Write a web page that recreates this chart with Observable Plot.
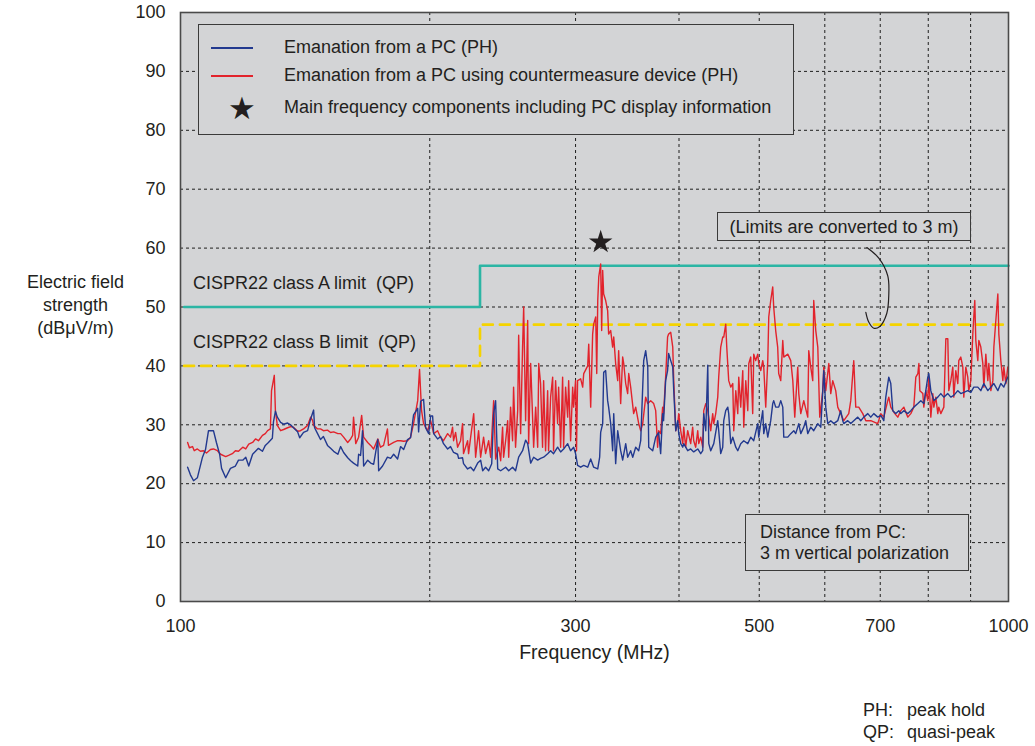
<!DOCTYPE html>
<html><head><meta charset="utf-8">
<script src="https://cdn.jsdelivr.net/npm/d3@7"></script>
<script src="https://cdn.jsdelivr.net/npm/@observablehq/plot@0.6"></script>
<style>
body{margin:0;background:#fff;font-family:"Liberation Sans",Arial,sans-serif;color:#231f20}
#wrap{position:relative;width:1035px;height:746px;overflow:hidden}
#wrap svg{position:absolute;left:0;top:0}
.box{position:absolute;background:#d3d4d6;border:1.5px solid #3a3a3a;box-sizing:border-box;font-size:18px}
.t{position:absolute;font-size:18px;line-height:22px;white-space:nowrap;color:#231f20}
.sw{position:absolute;height:1.6px}
</style></head><body><div id="wrap"></div><script>
// Frequency (MHz), field strength (dBµV/m) — emanation from a PC (peak hold)
const bluePH = [
[102.0,22.8],[102.8,21.5],[103.7,20.5],[104.8,21.0],[106.3,24.5],[107.2,25.8],[108.1,29.0],[109.6,29.0],[110.5,27.0],[111.5,25.0],
[112.1,22.6],[113.4,21.0],[114.9,22.6],[116.5,23.0],[117.5,24.0],[118.9,24.0],[119.9,24.5],[120.9,23.0],[122.2,25.0],[123.2,25.5],
[124.2,26.0],[125.6,25.5],[126.6,26.5],[127.7,27.0],[129.1,27.7],[129.5,30.5],[130.2,32.3],[130.9,31.3],[132.1,30.4],[133.2,30.1],
[134.7,30.3],[135.8,30.0],[136.9,29.5],[138.5,28.8],[139.3,27.8],[140.8,28.7],[142.4,29.0],[143.6,31.0],[144.8,32.5],[145.2,29.5],
[146.4,28.5],[147.6,27.5],[148.8,28.0],[150.5,26.5],[151.8,26.0],[153.1,25.5],[154.9,25.0],[156.1,26.3],[157.4,25.3],[159.2,24.4],
[160.5,23.9],[161.8,23.5],[163.7,23.0],[164.1,25.0],[165.0,24.8],[165.9,29.0],[166.4,23.0],[168.3,24.0],[169.7,23.5],[171.1,23.3],
[173.1,27.5],[173.5,22.2],[175.4,23.0],[177.8,24.5],[179.4,24.3],[180.9,25.0],[182.9,24.2],[184.4,26.3],[186.0,25.8],[188.0,27.5],
[189.6,27.8],[191.2,31.7],[193.4,32.8],[193.9,28.8],[195.0,34.0],[196.6,34.3],[197.7,29.5],[199.4,28.5],[200.5,31.5],[201.6,31.5],
[202.2,28.5],[204.4,27.6],[206.1,28.0],[207.8,26.8],[210.2,25.9],[211.9,26.3],[213.7,25.3],[216.1,25.0],[216.7,24.3],[219.1,24.4],
[219.7,23.4],[222.2,22.5],[224.1,22.8],[226.0,22.2],[228.5,23.5],[230.4,24.0],[231.7,22.2],[233.6,22.8],[235.6,22.2],[237.6,23.4],
[238.9,31.9],[240.2,34.1],[241.6,22.5],[243.6,22.2],[247.0,22.8],[249.1,22.2],[251.8,22.8],[253.9,22.2],[256.1,24.5],[258.9,25.6],
[261.1,27.4],[262.6,26.8],[264.8,23.5],[267.0,24.5],[270.0,24.0],[272.2,24.3],[274.5,24.5],[277.6,25.1],[279.9,25.6],[282.2,25.1],
[285.4,26.2],[287.8,25.4],[290.2,25.9],[293.5,26.8],[295.9,25.6],[298.4,26.2],[300.0,25.1],[301.7,23.1],[304.3,22.8],[306.9,23.1],
[310.3,22.8],[312.9,24.2],[315.5,22.8],[319.1,22.5],[320.8,24.5],[321.7,28.7],[323.5,30.2],[324.4,38.9],[326.2,39.2],[328.0,34.1],
[328.9,33.0],[330.8,30.2],[332.6,25.6],[333.6,31.9],[335.4,23.4],[337.3,29.0],[340.1,25.6],[342.0,24.0],[344.9,26.8],[346.8,24.5],
[349.7,25.6],[351.7,24.5],[354.6,26.2],[357.6,25.6],[359.6,27.3],[362.6,40.9],[364.6,42.6],[366.7,39.8],[367.7,26.2],[371.8,25.6],
[374.9,27.9],[378.0,28.7],[380.1,25.1],[382.2,31.9],[383.2,30.7],[385.4,37.5],[387.5,39.2],[388.6,42.1],[390.9,40.9],[393.1,39.8],
[394.2,35.8],[396.4,29.0],[398.6,30.7],[399.7,28.5],[401.9,26.8],[404.2,26.2],[405.3,26.8],[409.8,25.6],[413.2,25.9],[416.7,25.4],
[421.4,25.9],[424.9,25.1],[427.3,25.6],[428.5,31.9],[430.9,29.0],[433.3,40.1],[434.5,26.8],[436.9,25.6],[440.6,26.8],[445.5,30.7],
[446.7,29.0],[449.2,25.1],[451.7,26.2],[453.0,30.7],[455.5,32.4],[458.1,33.0],[459.3,31.9],[461.9,26.8],[464.5,27.9],[468.4,26.2],
[471.0,25.6],[474.9,26.8],[478.9,27.3],[484.3,26.8],[488.3,27.9],[492.4,27.3],[497.9,30.2],[499.3,27.9],[502.1,30.2],[504.9,32.4],
[506.3,28.5],[509.1,30.2],[512.0,27.9],[516.2,30.7],[519.1,33.6],[520.5,34.1],[523.4,33.0],[527.8,33.0],[530.8,34.1],[533.8,33.0],
[535.3,27.9],[541.3,27.9],[545.8,28.5],[550.4,29.0],[553.4,28.5],[556.5,29.6],[558.1,30.2],[561.2,28.5],[565.9,29.6],[569.0,30.7],
[572.2,28.5],[577.0,29.6],[581.8,29.0],[588.4,30.2],[593.3,29.6],[596.6,35.8],[598.3,39.2],[601.6,33.0],[605.0,30.2],[610.0,30.7],
[615.1,30.2],[622.0,30.7],[627.2,32.4],[630.7,30.7],[632.5,30.2],[639.5,30.7],[644.9,30.2],[650.3,30.7],[657.6,31.3],[663.1,30.7],
[668.7,31.3],[676.2,31.9],[681.8,31.3],[687.5,31.9],[695.2,31.3],[701.1,31.6],[707.0,30.7],[710.9,34.7],[716.8,38.1],[720.8,37.0],
[724.8,32.4],[730.9,31.9],[737.1,32.4],[741.2,31.9],[747.4,32.4],[755.8,31.9],[762.1,32.4],[768.5,33.0],[777.2,33.6],[783.6,34.1],
[790.2,33.6],[794.6,35.8],[799.0,38.1],[801.3,38.7],[805.7,35.8],[812.5,34.1],[821.5,34.7],[828.4,35.3],[835.4,34.7],[844.7,35.3],
[851.8,34.7],[858.9,35.0],[868.5,35.8],[875.8,35.3],[883.1,35.5],[892.9,35.8],[900.5,35.5],[908.0,36.4],[918.2,36.4],[925.9,35.8],
[933.7,37.0],[944.1,35.8],[952.1,36.4],[960.1,37.0],[970.8,35.8],[978.9,37.0],[987.1,36.4],[998.1,38.1]
];
// Emanation from a PC using countermeasure device (peak hold)
const redPH = [
[102.0,27.0],[102.5,26.1],[103.4,26.3],[103.9,25.6],[104.8,25.9],[105.7,25.5],[106.6,25.6],[107.5,25.2],[108.7,25.8],[109.6,25.9],
[110.8,25.6],[111.8,25.0],[113.4,24.6],[114.3,24.8],[115.5,25.1],[116.5,25.6],[117.5,25.5],[118.9,26.2],[119.9,25.9],[120.9,26.7],
[122.2,27.0],[123.2,27.6],[124.2,27.3],[125.6,28.2],[126.6,28.5],[127.4,29.0],[128.4,29.3],[128.8,35.8],[129.8,38.4],[130.2,32.4],
[130.9,29.9],[132.1,29.0],[133.2,29.2],[134.7,29.5],[135.8,29.7],[136.9,29.6],[138.5,28.9],[139.6,29.0],[140.8,29.3],[142.4,29.9],
[143.6,31.3],[144.4,30.7],[144.8,29.9],[146.4,29.3],[147.6,29.3],[148.8,29.0],[150.5,29.1],[151.8,28.7],[153.1,28.8],[154.9,28.5],
[156.1,28.5],[157.4,27.9],[159.2,27.0],[160.5,27.6],[161.4,28.2],[161.8,31.3],[162.8,26.8],[164.1,27.9],[165.5,31.6],[166.4,27.9],
[168.3,27.0],[169.7,26.5],[171.1,25.9],[173.1,27.6],[174.4,26.2],[175.9,26.5],[177.8,29.3],[178.3,26.5],[180.9,27.0],[182.9,27.3],
[184.4,27.3],[186.0,27.2],[188.0,27.3],[189.6,27.9],[191.2,30.2],[193.4,34.1],[194.4,39.4],[195.5,32.4],[196.6,30.2],[198.8,29.0],
[200.5,30.7],[202.2,28.5],[204.4,29.0],[206.1,27.9],[207.8,27.3],[210.2,28.5],[211.9,27.9],[213.1,29.6],[213.7,27.3],[214.9,28.7],
[216.1,26.2],[217.9,27.3],[219.1,30.2],[219.7,25.1],[222.2,27.3],[222.8,25.1],[224.1,27.9],[226.0,31.9],[227.2,24.5],[229.1,29.0],
[230.4,24.5],[232.3,27.9],[233.6,25.1],[235.6,27.3],[236.9,24.5],[238.9,34.1],[240.2,24.2],[242.3,26.2],[243.6,23.9],[244.9,29.6],
[245.6,24.5],[247.0,27.3],[248.4,30.7],[249.1,24.5],[250.4,33.0],[251.8,27.3],[252.5,36.4],[253.9,26.2],[255.4,32.4],[256.1,45.2],
[257.5,28.5],[258.9,43.2],[259.7,50.0],[261.1,30.7],[262.6,47.7],[263.3,26.8],[264.8,40.4],[267.0,26.2],[268.5,33.0],[270.0,26.2],
[270.8,40.4],[272.2,37.0],[273.7,26.2],[274.5,37.5],[276.0,25.6],[277.6,35.8],[278.3,25.6],[279.9,34.7],[281.5,38.1],[282.2,25.6],
[283.8,37.5],[285.4,30.2],[286.2,36.4],[287.8,26.2],[289.4,38.1],[290.2,26.2],[291.8,36.4],[293.5,31.3],[294.3,37.5],[295.9,27.3],
[297.6,36.4],[298.4,33.0],[300.0,37.5],[300.8,25.6],[301.7,37.5],[304.3,37.8],[306.0,36.4],[306.9,38.7],[310.3,40.0],[311.2,43.7],
[312.9,33.0],[314.6,45.4],[315.5,47.1],[317.3,48.3],[318.2,38.7],[319.1,51.1],[320.0,55.1],[321.7,57.3],[322.6,46.0],[323.5,56.2],
[324.4,52.2],[326.2,51.1],[328.0,49.4],[328.9,45.4],[330.8,46.0],[332.6,43.2],[333.6,44.9],[335.4,40.4],[337.3,37.5],[338.2,42.6],
[340.1,33.6],[342.0,41.5],[343.0,40.4],[344.9,37.0],[346.8,35.3],[347.8,38.7],[349.7,36.4],[352.6,31.9],[354.6,33.0],[357.6,30.2],
[359.6,29.0],[361.6,30.2],[364.6,34.7],[366.7,33.6],[369.7,34.1],[372.8,33.6],[374.9,32.4],[376.9,26.2],[378.0,29.0],[380.1,28.5],
[382.2,33.0],[383.2,31.9],[385.4,38.1],[387.5,44.9],[388.6,45.4],[390.9,45.7],[393.1,43.2],[394.2,37.5],[396.4,29.0],[398.6,30.2],
[399.7,31.9],[401.9,29.0],[404.2,26.8],[405.3,29.6],[407.5,26.2],[409.8,29.0],[413.2,26.8],[415.5,29.6],[416.7,27.3],[419.0,26.2],
[421.4,29.0],[422.6,26.8],[424.9,27.9],[427.3,26.2],[428.5,32.4],[430.9,33.6],[433.3,32.4],[434.5,31.3],[436.9,29.0],[439.3,31.9],
[440.6,30.2],[443.0,31.9],[445.5,34.7],[446.7,38.1],[449.2,43.2],[451.7,44.9],[453.0,44.9],[455.5,47.1],[456.8,43.2],[459.3,37.5],
[461.9,36.4],[464.5,37.0],[465.8,29.0],[468.4,35.8],[471.0,31.9],[472.3,38.1],[474.9,33.0],[477.6,39.2],[478.9,29.6],[481.6,37.5],
[484.3,32.4],[485.7,40.4],[488.3,41.5],[491.0,31.9],[492.4,42.0],[495.1,40.9],[497.9,42.0],[499.3,40.4],[502.1,39.2],[504.9,40.9],
[506.3,39.8],[509.1,33.0],[512.0,40.9],[513.4,48.3],[516.2,51.1],[519.1,53.4],[520.5,50.0],[523.4,46.0],[526.3,43.2],[527.8,38.7],
[530.8,37.5],[533.8,44.3],[535.3,41.5],[541.3,42.0],[545.8,40.9],[548.9,37.5],[551.9,31.3],[556.5,39.8],[558.1,35.3],[561.2,31.9],
[565.9,34.1],[572.2,31.3],[573.8,42.6],[577.0,39.8],[580.2,37.5],[581.8,51.1],[585.1,46.0],[588.4,43.2],[591.6,31.3],[596.6,35.8],
[598.3,39.8],[601.6,35.8],[606.7,40.4],[610.0,35.3],[613.4,37.5],[618.5,35.8],[622.0,33.0],[627.2,31.9],[632.5,30.7],[641.3,31.9],
[644.9,34.1],[650.3,40.9],[653.9,33.0],[659.4,33.0],[666.8,31.9],[672.5,30.7],[681.8,30.7],[695.2,30.2],[701.1,31.9],[707.0,31.3],
[714.8,34.1],[716.8,34.7],[720.8,33.0],[728.9,31.9],[735.0,31.3],[741.2,32.4],[747.4,33.0],[755.8,31.3],[762.1,31.9],[768.5,33.0],
[772.8,38.1],[777.2,38.7],[779.4,40.4],[781.5,35.8],[788.0,35.3],[790.2,33.0],[794.6,35.8],[799.0,34.1],[801.3,38.1],[805.7,31.3],
[810.2,35.3],[812.5,33.0],[817.0,34.7],[821.5,31.9],[823.8,33.0],[828.4,31.9],[835.4,33.0],[840.1,44.6],[844.7,44.6],[847.1,35.8],
[851.8,37.5],[856.5,39.8],[858.9,34.7],[863.7,39.2],[868.5,37.0],[870.9,40.9],[875.8,41.5],[880.7,39.8],[883.1,34.7],[888.1,39.8],
[892.9,38.1],[895.4,35.8],[900.5,37.5],[905.5,45.4],[908.0,48.3],[910.5,51.1],[913.1,44.3],[918.2,40.9],[920.8,44.3],[925.9,43.2],
[931.1,40.4],[933.7,36.4],[938.9,42.0],[944.1,37.5],[946.8,40.4],[952.1,35.8],[957.4,37.5],[960.1,43.2],[965.4,47.7],[970.8,52.2],
[973.5,45.4],[978.9,40.9],[984.4,37.5],[987.1,39.8],[992.6,37.0],[998.1,39.8]
];
// CISPR22 limits (QP), converted to 3 m
const classALimit = [[101,50],[230,50],[230,57],[1000,57]];
const classBLimit = [[101,40],[230,40],[230,47],[1000,47]];
// Main frequency component including PC display information
const starPoints = [[321.7,61]];
// bracket loop joining the "converted to 3 m" note to the limit lines
const noteLoop = [[674.4,60.1],[697.2,58.3],[714.8,55.3],[716.8,52.0],[712.8,48.9],[699.1,46.7],[687.5,46.4],[678.2,47.4],[672.5,49.1]];
const xTicks = [100,300,500,700,1000];
const xGrid = [200,300,400,500,600,700,800,900];
const yTicks = [0,10,20,30,40,50,60,70,80,90,100];
const yGrid = [10,20,30,40,50,60,70,80,90];

const BLUE="#22398f", RED="#e2232c", CYAN="#2bb5a4", YELLOW="#f5d300", INK="#231f20", BG="#d3d4d6";

const chart = Plot.plot({
  width:1035, height:746,
  marginLeft:180, marginRight:27, marginTop:12, marginBottom:145,
  style:{fontFamily:"'Liberation Sans', Arial, sans-serif", fontSize:"18px", color:INK, background:"transparent"},
  x:{type:"log", domain:[100,1000]},
  y:{domain:[0,100]},
  marks:[
    Plot.frame({fill:BG}),
    Plot.gridY(yGrid, {stroke:"#1f1f1f", strokeOpacity:1, strokeDasharray:"3,3", strokeWidth:1}),
    Plot.gridX(xGrid, {stroke:"#1f1f1f", strokeOpacity:1, strokeDasharray:"3,3", strokeWidth:1}),
    Plot.line(classALimit, {x:d=>d[0], y:d=>d[1], stroke:CYAN, strokeWidth:2.6}),
    Plot.line(classBLimit, {x:d=>d[0], y:d=>d[1], stroke:YELLOW, strokeWidth:2.6, strokeDasharray:"10,7"}),
    Plot.line(redPH, {x:d=>d[0], y:d=>d[1], stroke:RED, strokeWidth:1.4}),
    Plot.line(bluePH, {x:d=>d[0], y:d=>d[1], stroke:BLUE, strokeWidth:1.4}),
    Plot.dot(starPoints, {x:d=>d[0], y:d=>d[1], symbol:"star", r:7.4, fill:INK, stroke:"none"}),
    Plot.line(noteLoop, {x:d=>d[0], y:d=>d[1], curve:"catmull-rom", stroke:INK, strokeWidth:1.2}),
    Plot.frame({stroke:"#4a4a4a", strokeWidth:1.6}),
    Plot.axisX({ticks:xTicks, tickSize:0, tickPadding:18, tickFormat:d=>String(d), label:null, fontSize:18}),
    Plot.axisY({ticks:yTicks, tickSize:0, tickPadding:15, label:null, fontSize:18}),
    Plot.text(["Frequency (MHz)"], {frameAnchor:"bottom", dy:57, fontSize:19.5, fill:INK}),
    Plot.text(["Electric field\nstrength\n(dBμV/m)"], {frameAnchor:"left", dx:-105, dy:-3, textAnchor:"middle", lineHeight:1.28, fontSize:18, fill:INK})
  ]
});
const wrap = document.getElementById("wrap");
wrap.appendChild(chart);

function el(cls, css, html){const d=document.createElement("div");d.className=cls;d.style.cssText=css;if(html!=null)d.innerHTML=html;return d;}
// legend
const leg = el("box","left:198px;top:24px;width:596px;height:111px;");
leg.appendChild(el("sw",`left:12px;top:22px;width:42px;background:${BLUE}`));
leg.appendChild(el("t","left:85px;top:11px;","Emanation from a PC (PH)"));
leg.appendChild(el("sw",`left:12px;top:50px;width:42px;background:${RED}`));
leg.appendChild(el("t","left:85px;top:39px;","Emanation from a PC using countermeasure device (PH)"));
leg.appendChild(el("t",`left:29px;top:65px;font-size:31px;line-height:36px;font-family:'DejaVu Sans',sans-serif;color:${INK}`,"★"));
leg.appendChild(el("t","left:85px;top:71px;","Main frequency components including PC display information"));
wrap.appendChild(leg);
// limit texts
wrap.appendChild(el("t","left:193px;top:272px;","CISPR22 class A limit&nbsp; (QP)"));
wrap.appendChild(el("t","left:193px;top:331px;","CISPR22 class B limit&nbsp; (QP)"));
// notes
wrap.appendChild(el("box","left:717px;top:212px;width:254px;height:29px;display:flex;align-items:center;justify-content:center;line-height:22px;","(Limits are converted to 3 m)"));
wrap.appendChild(el("box","left:745px;top:514px;width:224px;height:57px;padding:7px 0 0 14px;line-height:21px;","Distance from PC:<br>3 m vertical polarization"));
wrap.appendChild(el("t","left:863px;top:699px;","PH:"));
wrap.appendChild(el("t","left:907px;top:699px;","peak hold"));
wrap.appendChild(el("t","left:863px;top:721px;","QP:"));
wrap.appendChild(el("t","left:907px;top:721px;","quasi-peak"));
</script></body></html>
